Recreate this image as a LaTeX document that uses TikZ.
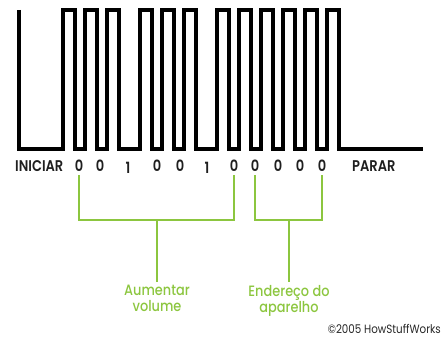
\documentclass[tikz,border=0pt]{standalone}
\usepackage{fontspec}
\setmainfont{Poppins}
\newfontfamily\labelfont{Poppins SemiBold}
\newfontfamily\capfont{Poppins Medium}
\definecolor{hswgreen}{RGB}{140,198,63}
\begin{document}
\begin{tikzpicture}[x=1pt,y=-1pt,
  wave/.style={line width=3.5pt, line join=miter},
  bitlabel/.style={font=\labelfont\fontsize{15.5}{15.5}\selectfont, text=black!88, inner sep=0pt, xscale=0.84},
  bracket/.style={hswgreen, line width=2.3pt},
  caption/.style={hswgreen, font=\capfont\fontsize{15}{16}\selectfont, align=center, inner sep=0pt, xscale=0.86},
]
\useasboundingbox (0,0) rectangle (443,345);

% pulse train: start burst, 11 data bits, stop
\draw[wave] (19,10) -- (19,149) -- (63,149)
  -- (63,10) -- (75,10) -- (75,149) -- (85,149)
  -- (85,10) -- (97,10) -- (97,149) -- (107,149)
  -- (107,10) -- (119,10) -- (119,149) -- (140,149)
  -- (140,10) -- (152,10) -- (152,149) -- (162,149)
  -- (162,10) -- (174,10) -- (174,149) -- (184,149)
  -- (184,10) -- (196,10) -- (196,149) -- (217,149)
  -- (217,10) -- (229,10) -- (229,149) -- (239,149)
  -- (239,10) -- (251,10) -- (251,149) -- (261,149)
  -- (261,10) -- (273,10) -- (273,149) -- (283,149)
  -- (283,10) -- (295,10) -- (295,149) -- (305,149)
  -- (305,10) -- (317,10) -- (317,149) -- (327,149)
  -- (327,10) -- (339,10) -- (339,149) -- (423,149);

% labels under the line
\node[bitlabel, anchor=east] (start) at (63.5,166) {INICIAR};
\node[bitlabel] (b1)  at (79,166)  {0};
\node[bitlabel] (b2)  at (100,166) {0};
\node[bitlabel] (b3)  at (128,167.5) {1};
\node[bitlabel] (b4)  at (157,166) {0};
\node[bitlabel] (b5)  at (180,166) {0};
\node[bitlabel] (b6)  at (207,167.5) {1};
\node[bitlabel] (b7)  at (234,166) {0};
\node[bitlabel] (b8)  at (255,166) {0};
\node[bitlabel] (b9)  at (278,166) {0};
\node[bitlabel] (b10) at (300,166) {0};
\node[bitlabel] (b11) at (322,166) {0};
\node[bitlabel, anchor=west] (stop) at (352,166) {PARAR};

% grouping brackets
\coordinate (j1) at (157,220);
\coordinate (j2) at (289,220);
\node[caption, anchor=north] (cmd) at (157,285) {Aumentar\\volume};
\node[caption, anchor=north] (addr) at (289,285) {Endereço do\\aparelho};

\draw[bracket] (b1.south |- 0,175) -- (b1.south |- j1) -- (b7.south |- j1) -- (b7.south |- 0,175);
\draw[bracket] (j1) -- ([yshift=3pt]cmd.north);
\draw[bracket] (b8.south |- 0,175) -- (b8.south |- j2) -- (b11.south |- j2) -- (b11.south |- 0,175);
\draw[bracket] (j2) -- ([yshift=3pt]addr.north);

\node[anchor=east, font=\fontsize{12}{12}\selectfont, text=black!85, inner sep=0pt, xscale=0.86] (copy) at (441,329) {©2005 HowStuffWorks};
\end{tikzpicture}
\end{document}
